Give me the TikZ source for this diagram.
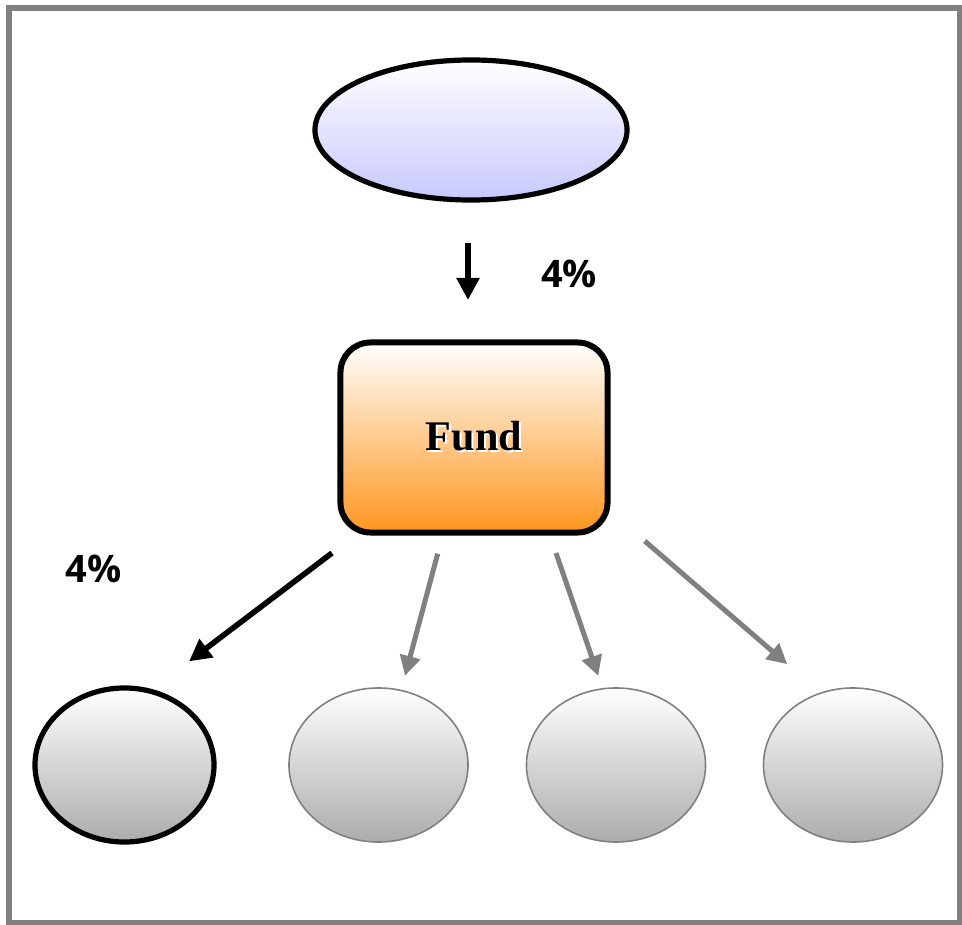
\documentclass[tikz,border=0pt]{standalone}
\usepackage{xcolor}
\usepackage{fontspec}
\usepackage{tikz}
\usetikzlibrary{
  arrows.meta,
  calc,
  shapes.geometric
}
\newfontfamily\pctfont{Open Sans}
\newfontfamily\fundfont{Liberation Serif}
\definecolor{lavender}{RGB}{200,200,255}
\definecolor{fundorange}{RGB}{255,150,30}
\definecolor{leafgray}{RGB}{172,172,172}
\definecolor{framegray}{RGB}{128,128,128}
\newcommand{\shadowtxt}[1]{%
  \makebox[0pt][l]{\hspace{0.05cm}\raisebox{-0.05cm}{\textcolor{white}{#1}}}#1}

\begin{document}
\begin{tikzpicture}[
      x=0.025cm, y=-0.025cm,
      oval/.style={ellipse, draw=black, line width=0.13cm, inner sep=0pt,
                   top color=white, bottom color=lavender,
                   minimum width=7.8cm, minimum height=3.5cm},
      fundbox/.style={rectangle, draw=black, line width=0.15cm,
                   rounded corners=0.75cm, inner sep=0pt,
                   top color=white, bottom color=fundorange,
                   minimum width=6.675cm, minimum height=4.75cm,
                   font=\fundfont\bfseries\fontsize{30}{34}\selectfont},
      leaf/.style={ellipse, draw=framegray, line width=0.04cm, inner sep=0pt,
                   top color=white, bottom color=leafgray,
                   minimum width=4.475cm, minimum height=3.85cm},
      leafon/.style={leaf, draw=black, line width=0.13cm},
      darr/.style={-{Triangle[length=0.55cm, width=0.55cm]}, line width=0.14cm, black},
      garr/.style={-{Triangle[length=0.5cm, width=0.5cm]}, line width=0.125cm, framegray},
      pct/.style={font=\pctfont\bfseries\fontsize{27}{30}\selectfont, inner sep=0pt}
  ]
      \useasboundingbox (0,0) rectangle (962,925);
      \draw[framegray, line width=0.13cm] (9,8) rectangle (959.5,922.5);

      % Oben
      \node[oval] (source) at (471,130) {};
      \node[fundbox] (fund) at (474,437.5) {\shadowtxt{Fund}};
      \node[pct] (pcttop) at (569,274) {4\%};

      \draw[darr] ($(source.south)+(-3,40)$) -- ($(fund.north)+(-6,-39.5)$);

      % Unten
      \node[leafon] (leafa) at (124.5,765) {};
      \node[leaf] (leafb) at (378.5,765) {};
      \node[leaf] (leafc) at (616,765) {};
      \node[leaf] (leafd) at (853,765) {};
      \node[pct] (pctleft) at (93.5,568.5) {4\%};

      \draw[darr] ($(fund.south west)+(-5.5,17.5)$) -- ($(leafa.north)+(64.5,-24)$);
      \draw[garr] ($(fund.south)+(-36.3,18.2)$) -- ($(leafb.north)+(26.5,-11.3)$);
      \draw[garr] ($(fund.south)+(82,17.5)$) -- ($(leafc.north)+(-17.7,-11.3)$);
      \draw[garr] ($(fund.south east)+(34.2,5.5)$) -- ($(leafd.north)+(-65.7,-23)$);
\end{tikzpicture}
\end{document}
